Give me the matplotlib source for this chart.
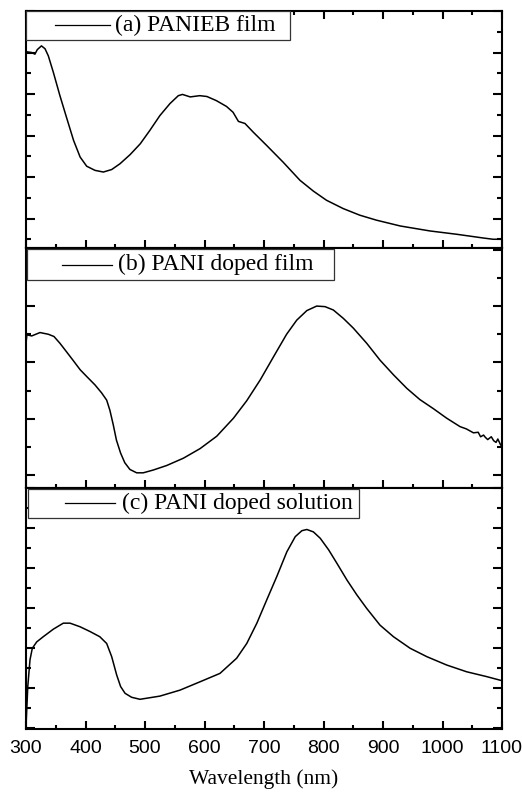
import matplotlib.pyplot as plt
from matplotlib.patches import Rectangle
from matplotlib.ticker import MultipleLocator

# espectros (unidades arbitrárias de absorbância)
wl_a = [300, 309.5, 315, 319, 326, 332, 337.5, 346, 357, 368, 380, 391, 402, 416, 430,
        444, 458, 475, 492, 508, 525, 542, 556, 563, 576, 592, 604, 620, 637, 648,
        657, 668, 682, 704.5, 732, 760.5, 783, 805, 833, 861, 889, 929, 979, 1024,
        1068.6, 1085, 1100]
abs_a = [0.602, 0.600, 0.596, 0.607, 0.616, 0.609, 0.592, 0.552, 0.496, 0.444, 0.388,
         0.348, 0.326, 0.316, 0.312, 0.318, 0.332, 0.354, 0.380, 0.412, 0.448, 0.477,
         0.496, 0.499, 0.493, 0.496, 0.494, 0.484, 0.470, 0.456, 0.434, 0.429, 0.408,
         0.376, 0.336, 0.292, 0.266, 0.244, 0.224, 0.208, 0.196, 0.182, 0.170, 0.162,
         0.153, 0.150, 0.150]

wl_b = [300, 301.5, 309.6, 323.5, 337.5, 347, 357, 368, 379.6, 391, 402, 416, 427,
        435.6, 441, 446.7, 452, 459, 466, 474.6, 486, 497, 514, 536.5, 564.6, 592.6,
        620.6, 648.7, 671, 693.7, 716, 738, 755, 772, 788.5, 802.6, 816.6, 833.5, 850,
        872.6, 895, 917.6, 940, 962, 984.5, 1007, 1029.5, 1040, 1052, 1060, 1064, 1069,
        1072, 1076, 1082, 1086, 1090, 1093, 1097, 1100]
abs_b = [0.434, 0.449, 0.447, 0.453, 0.450, 0.446, 0.434, 0.419, 0.403, 0.387, 0.375,
         0.360, 0.346, 0.333, 0.315, 0.289, 0.262, 0.239, 0.222, 0.210, 0.204, 0.204,
         0.209, 0.217, 0.230, 0.247, 0.269, 0.301, 0.332, 0.369, 0.410, 0.450, 0.475,
         0.492, 0.500, 0.499, 0.493, 0.478, 0.461, 0.434, 0.404, 0.378, 0.354, 0.334,
         0.318, 0.301, 0.286, 0.282, 0.275, 0.276, 0.268, 0.271, 0.267, 0.263, 0.268,
         0.261, 0.258, 0.264, 0.255, 0.250]

wl_c = [300, 301, 303, 306.7, 310.6, 318, 329, 346, 362.7, 374, 390.8, 407.6, 424,
        435.6, 444, 452.4, 459, 466.5, 477.6, 491.6, 525, 558.8, 592.6, 626, 654, 671,
        688, 704.5, 721.5, 738.4, 752.5, 763.7, 772, 783, 794.5, 808.6, 822.6, 839.5,
        856, 872.6, 895, 917.6, 945.6, 973.6, 1007, 1040.7, 1074, 1096.6, 1100]
abs_c = [0.102, 0.136, 0.203, 0.270, 0.299, 0.315, 0.328, 0.347, 0.362, 0.362, 0.353,
         0.341, 0.328, 0.311, 0.278, 0.232, 0.203, 0.186, 0.176, 0.171, 0.179, 0.194,
         0.215, 0.236, 0.274, 0.311, 0.362, 0.420, 0.479, 0.541, 0.579, 0.594, 0.597,
         0.591, 0.575, 0.546, 0.512, 0.470, 0.433, 0.399, 0.357, 0.328, 0.299, 0.278,
         0.257, 0.240, 0.228, 0.219, 0.218]

rotulos = ["(a) PANIEB film", "(b) PANI doped film", "(c) PANI doped solution"]
xticks = [300, 400, 500, 600, 700, 800, 900, 1000, 1100]

fig = plt.figure(figsize=(5.22, 7.92), dpi=100)
L, W = 26 / 522, 476 / 522
ax_a = fig.add_axes([L, 0.6869, W, 0.2992])
ax_b = fig.add_axes([L, 0.3838, W, 0.3030])
ax_c = fig.add_axes([L, 0.0795, W, 0.3043])

paineis = [
    (ax_a, wl_a, abs_a, (0.129, 0.70), (0.0, 0.555, 0.878, 1.0), (0.061, 0.176, 0.939, 0.187)),
    (ax_b, wl_b, abs_b, (0.177, 0.603), (0.0015, 0.647, 0.867, 0.995), (0.075, 0.180, 0.930, 0.194)),
    (ax_c, wl_c, abs_c, (0.0964, 0.701), (0.005, 0.700, 0.877, 0.995), (0.082, 0.187, 0.936, 0.201)),
]

for i, (ax, x, y, ylim, caixa, leg) in enumerate(paineis):
    ax.plot(x, y, color='black', lw=1.1)
    ax.set_xlim(300, 1100)
    ax.set_ylim(*ylim)
    ax.xaxis.set_major_locator(MultipleLocator(100))
    ax.xaxis.set_minor_locator(MultipleLocator(50))
    ax.yaxis.set_major_locator(MultipleLocator(0.1))
    ax.yaxis.set_minor_locator(MultipleLocator(0.05))
    ax.tick_params(which='both', direction='in', width=1.5, left=True, right=True,
                   top=(i == 0), labelleft=False)
    ax.tick_params(axis='x', which='major', length=6)
    ax.tick_params(axis='x', which='minor', length=3)
    ax.tick_params(axis='y', which='major', length=6.5)
    ax.tick_params(axis='y', which='minor', length=3.5)
    for s in ax.spines.values():
        s.set_linewidth(1.5)
    if i < 2:
        ax.tick_params(labelbottom=False)
    # caixa da legenda desenhada à mão
    x0, x1, y0, y1 = caixa
    ax.add_patch(Rectangle((x0, y0), x1 - x0, y1 - y0, transform=ax.transAxes,
                           facecolor='white', edgecolor='#333333', lw=0.9, zorder=5))
    lx0, lx1, ly, tx = leg
    ax.plot([lx0, lx1], [ly, ly], transform=ax.transAxes, color='black', lw=0.9, zorder=6)
    ax.text(tx, ly, rotulos[i], transform=ax.transAxes, va='center', ha='left',
            fontsize=17, family='Liberation Serif', zorder=6)

ax_c.set_xticks(xticks)
ax_c.set_xticklabels([str(t) for t in xticks], family='Liberation Sans', fontsize=14)
ax_c.tick_params(axis='x', which='major', pad=8)
ax_c.set_xlabel("Wavelength (nm)", family='Liberation Serif', fontsize=15.5, labelpad=9)

fig.savefig("out.png", dpi=100)
